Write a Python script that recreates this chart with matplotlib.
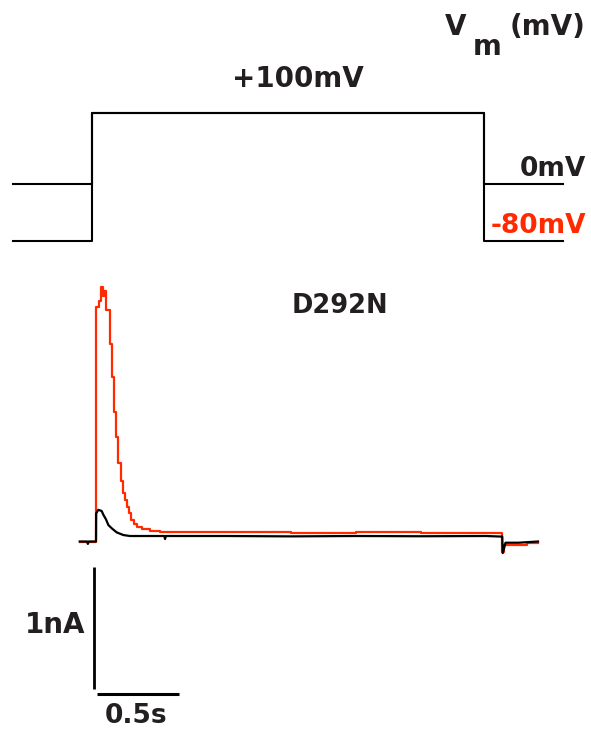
import matplotlib
matplotlib.use('Agg')
import matplotlib.pyplot as plt

# voltage protocol (s, mV)
t_volt = [-0.5, 0.0, 0.0, 2.5, 2.5, 3.0]
v_zero = [0, 0, 100, 100, 0, 0]
v_minus80 = [-80, -80, 100, 100, -80, -80]

# current traces (s, nA) for D292N; red is a sampled (stepped) record
t_red = [-0.1, 0.0, 0.018, 0.031, 0.043, 0.052, 0.062, 0.085, 0.098, 0.108,
         0.123, 0.138, 0.151, 0.166, 0.178, 0.191, 0.203, 0.218, 0.234, 0.252,
         0.283, 0.332, 0.394, 0.8, 1.2, 1.6, 2.0, 2.4, 2.5, 2.51, 2.65, 2.72]
i_red = [0.0, 1.92, 1.97, 2.09, 2.01, 2.05, 1.90, 1.62, 1.35, 1.06,
         0.86, 0.64, 0.50, 0.40, 0.34, 0.28, 0.23, 0.18, 0.14, 0.12,
         0.10, 0.09, 0.08, 0.075, 0.072, 0.075, 0.070, 0.070, -0.09, -0.03, -0.01, -0.01]

t_black = [-0.1, -0.055, -0.05, -0.045, 0.0, 0.001, 0.014, 0.035, 0.045, 0.062,
           0.076, 0.097, 0.127, 0.168, 0.209, 0.42, 0.425, 0.43, 0.8, 1.2, 1.6,
           2.0, 2.4, 2.5, 2.503, 2.52, 2.6, 2.72]
i_black = [0.0, 0.0, -0.02, 0.0, 0.0, 0.23, 0.26, 0.25, 0.22, 0.18,
           0.135, 0.108, 0.075, 0.053, 0.045, 0.045, 0.02, 0.045, 0.045, 0.042, 0.045,
           0.043, 0.045, 0.04, -0.095, -0.01, -0.01, 0.0]

# scale bars
bar_t = 0.5     # s
bar_i = 1.0     # nA

W, H = 591, 731
RED = '#ff2a00'
INK = '#231f20'

fig = plt.figure(figsize=(W / 100, H / 100), dpi=100)


def px_axes(x0, y0, x1, y1):
    # axes from pixel box (top-left origin)
    return fig.add_axes([x0 / W, 1 - y1 / H, (x1 - x0) / W, (y1 - y0) / H])


def px_text(x, y, s, **kw):
    kw.setdefault('color', INK)
    kw.setdefault('fontsize', 20)
    kw.setdefault('fontweight', 'bold')
    kw.setdefault('family', 'DejaVu Sans')
    fig.text(x / W, 1 - y / H, s, va='baseline', **kw)


# voltage panel
ax_v = px_axes(13, 113, 563, 241)
ax_v.plot(t_volt, v_zero, color='black', lw=1.5, clip_on=False)
ax_v.plot(t_volt, v_minus80, color='black', lw=1.5, clip_on=False)
ax_v.set_xlim(-0.5, 3.0)
ax_v.set_ylim(-80, 100)
ax_v.axis('off')

# current panel
ax_i = px_axes(79.75, 285.3, 538, 706.2)
ax_i.plot(t_red, i_red, color=RED, lw=1.6, drawstyle='steps-post', clip_on=False)
ax_i.plot(t_black, i_black, color='black', lw=1.6, clip_on=False)
ax_i.plot([-0.0105, -0.0105], [-1.211, -1.211 + bar_i], color='black', lw=2,
          solid_capstyle='butt', clip_on=False)
ax_i.plot([0.008, 0.008 + bar_t], [-1.25, -1.25], color='black', lw=2.2,
          solid_capstyle='butt', clip_on=False)
ax_i.set_xlim(-0.1, 2.72)
ax_i.set_ylim(-1.35, 2.1)
ax_i.axis('off')

# labels
px_text(445, 35, 'V')
px_text(473, 55, 'm')
px_text(510, 35, '(mV)')
px_text(232, 87, '+100mV')
px_text(586, 176, '0mV', ha='right', fontsize=19)
px_text(586, 233, '-80mV', ha='right', color=RED, fontsize=19)
px_text(292, 313, 'D292N', fontsize=18.5)
px_text(25, 633, '1nA')
px_text(105, 723, '0.5s', fontsize=19)

fig.savefig('out.png', dpi=100)
